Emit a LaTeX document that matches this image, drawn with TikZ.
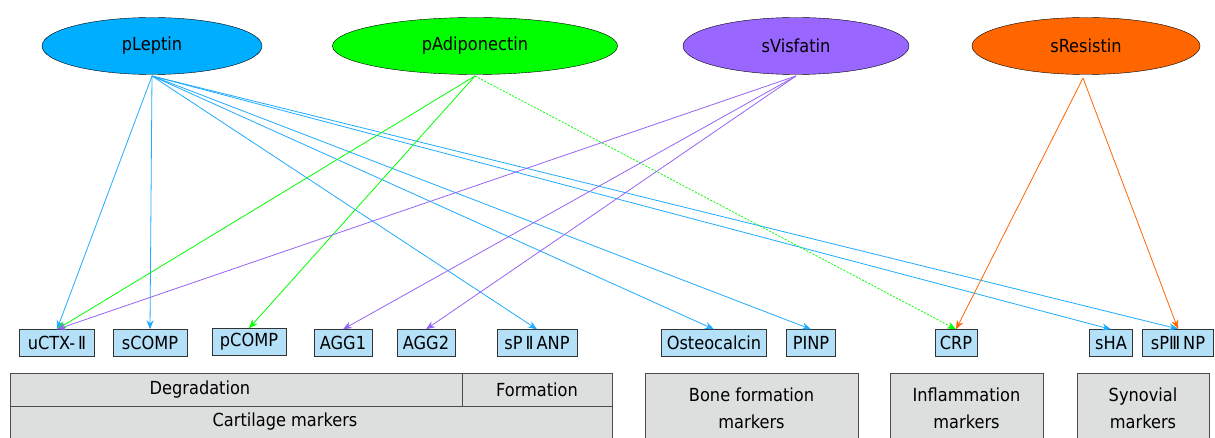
\documentclass[tikz,border=0pt]{standalone}
\usepackage{fontspec}
\setmainfont{DejaVu Sans Condensed}
\usetikzlibrary{shapes.geometric,arrows.meta}
\definecolor{cblue}{RGB}{0,174,255}
\definecolor{cgreen}{RGB}{0,255,0}
\definecolor{cpurple}{RGB}{153,102,255}
\definecolor{corange}{RGB}{255,102,0}
\definecolor{lblue}{RGB}{30,170,255}
\definecolor{lpurple}{RGB}{150,100,245}
\definecolor{boxblue}{RGB}{180,224,248}
\definecolor{boxgray}{RGB}{221,222,222}
\tikzset{
  hormone/.style={ellipse, draw=black, minimum height=57pt, inner sep=0pt, font=\fontsize{18}{21}\selectfont},
  marker/.style={draw=black!80, fill=boxblue, minimum height=27pt, inner sep=1pt, font=\fontsize{18}{21}\selectfont},
  groupbox/.style={draw=black!70, fill=boxgray, inner sep=0pt, align=center, font=\fontsize{18}{27}\selectfont},
  grouplabel/.style={inner sep=0pt, font=\fontsize{18}{21}\selectfont},
  arr/.style={-{Stealth[length=9pt,width=7pt]}, line width=0.8pt},
}
\begin{document}
\begin{tikzpicture}[x=1pt,y=-1pt]
\useasboundingbox (0,0) rectangle (1215,438);
% hormones
\node[hormone, fill=cblue, minimum width=220pt] (lep) at (152,46) {pLeptin};
\node[hormone, fill=cgreen, minimum width=285pt] (adi) at (475,46) {pAdiponectin};
\node[hormone, fill=cpurple, minimum width=226pt] (vis) at (796,46) {sVisfatin};
\node[hormone, fill=corange, minimum width=228pt] (res) at (1086,46) {sResistin};
% markers
\node[marker, minimum width=75pt] (uctx) at (57,343) {uCTX-\,Ⅱ};
\node[marker, minimum width=74pt] (scomp) at (150,343) {sCOMP};
\node[marker, minimum width=74pt] (pcomp) at (249,342) {pCOMP};
\node[marker, minimum width=58pt] (agg1) at (343,343) {AGG1};
\node[marker, minimum width=58pt] (agg2) at (426,343) {AGG2};
\node[marker, minimum width=80pt] (spiianp) at (537,343) {sP\,Ⅱ\,ANP};
\node[marker, minimum width=105pt] (osteo) at (714,343) {Osteocalcin};
\node[marker, minimum width=49pt] (pinp) at (811,343) {PINP};
\node[marker, minimum width=42pt] (crp) at (956,343) {CRP};
\node[marker, minimum width=43pt] (sha) at (1111,343) {sHA};
\node[marker, minimum width=71pt, line width=1.2pt] (spiiinp) at (1178,343) {sPⅢ\,NP};
% group boxes
\node[groupbox, minimum width=602pt, minimum height=33pt] (cart) at (311,422) {};
\node[groupbox, minimum width=452pt, minimum height=33pt] (degr) at (236,390) {};
\node[groupbox, minimum width=150pt, minimum height=33pt] (form) at (537,390) {Formation};
\node[grouplabel] (cartl) at (285,422) {Cartilage markers};
\node[grouplabel] (degrl) at (200,390) {Degradation};
\node[groupbox, minimum width=213pt, minimum height=70pt] (bone) at (751.5,408) {Bone formation\\markers};
\node[groupbox, minimum width=153pt, minimum height=70pt] (infl) at (966.5,408) {Inflammation\\markers};
\node[groupbox, minimum width=132pt, minimum height=70pt] (syno) at (1143,408) {Synovial\\markers};
% anchor points
\coordinate (lepb) at (152,76);
\coordinate (adib) at (475,76);
\coordinate (visb) at (796,76);
\coordinate (resb) at (1083,78);
% leptin
\draw[arr, lblue] (lepb) -- (uctx.north);
\draw[arr, lblue] (lepb) -- (scomp.north);
\draw[arr, lblue] (lepb) -- (spiianp.north);
\draw[arr, lblue] (lepb) -- (osteo.north);
\draw[arr, lblue] (lepb) -- (pinp.north);
\draw[arr, lblue] (lepb) -- (sha.north);
\draw[arr, lblue] (lepb) -- (spiiinp.north);
% adiponectin
\draw[arr, cgreen] (adib) -- (uctx.north);
\draw[arr, cgreen] (adib) -- (pcomp.north);
\draw[arr, cgreen, dashed, dash pattern=on 2pt off 1.5pt] (adib) -- (crp.north);
% visfatin
\draw[arr, lpurple] (visb) -- (uctx.north);
\draw[arr, lpurple] (visb) -- (agg1.north);
\draw[arr, lpurple] (visb) -- (agg2.north);
% resistin
\draw[arr, corange] (resb) -- (crp.north);
\draw[arr, corange] (resb) -- (spiiinp.north);
\end{tikzpicture}
\end{document}
